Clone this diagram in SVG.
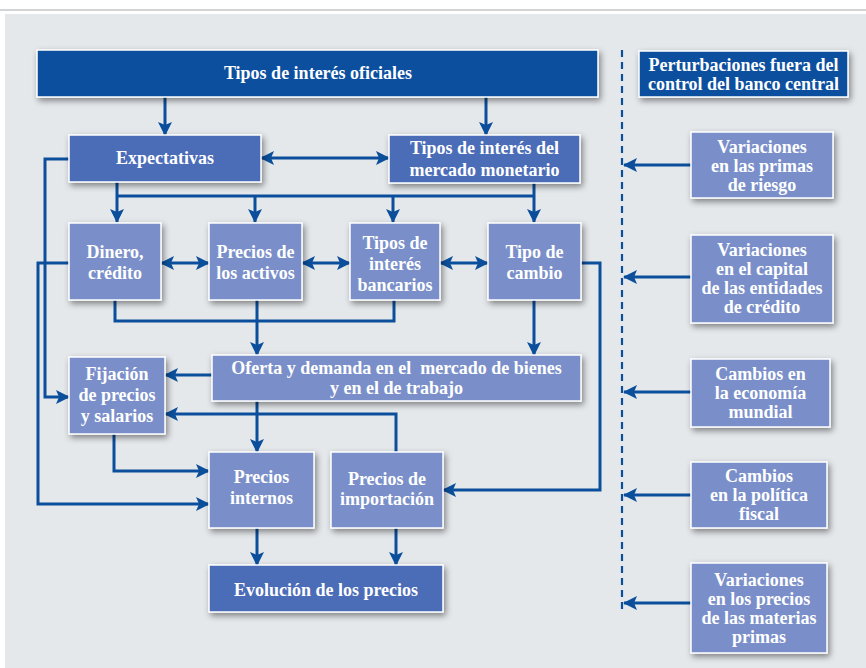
<svg xmlns="http://www.w3.org/2000/svg" width="866" height="668" viewBox="0 0 866 668">
<style>
.box{stroke:#ffffff;stroke-width:1.5;filter:url(#sh)}
.dark{fill:#0d509f}
.mid{fill:#4b6cb7}
.light{fill:#7a8fc9}
text{font-family:"Liberation Serif","Times New Roman",serif;font-weight:bold;font-size:18px;fill:#ffffff;text-anchor:middle}
.c{fill:none;stroke:#0b4f9c;stroke-width:3}
.a{marker-end:url(#ah)}
.b{marker-start:url(#ah);marker-end:url(#ah)}
</style>
<defs>
<filter id="sh" x="-20%" y="-30%" width="150%" height="170%">
<feDropShadow dx="2" dy="3" stdDeviation="3" flood-color="#000000" flood-opacity="0.45"/>
</filter>
<marker id="ah" markerUnits="userSpaceOnUse" markerWidth="14" markerHeight="14" refX="13" refY="7" orient="auto-start-reverse">
<path d="M0,0 L14,7 L0,14 L3,7 z" fill="#0b4f9c"/>
</marker>
</defs>
<rect x="0" y="0" width="866" height="668" fill="#ffffff"/>
<line x1="0" y1="10" x2="866" y2="10" stroke="#c4c6c8" stroke-width="1.5"/>
<rect x="5" y="14" width="861" height="654" fill="#e5e8eb"/>

<g id="connectors">
<path class="c a" d="M165,97 V135"/>
<path class="c a" d="M486,97 V135"/>
<path class="c b" d="M261,158 H389"/>
<path class="c" d="M117,196 H534"/>
<path class="c a" d="M117,182 V222"/>
<path class="c a" d="M534,183 V222"/>
<path class="c a" d="M255,196 V222"/>
<path class="c a" d="M393,196 V222"/>
<path class="c b" d="M161,263 H209"/>
<path class="c b" d="M302,263 H350"/>
<path class="c b" d="M440,263 H488"/>
<path class="c" d="M115,300 V321 H394 V300"/>
<path class="c a" d="M257,300 V355"/>
<path class="c a" d="M534,300 V355"/>
<path class="c a" d="M212,375 H165"/>
<path class="c a" d="M396,452 V414 H165"/>
<path class="c a" d="M257,401 V452"/>
<path class="c a" d="M114,434 V471 H209"/>
<path class="c a" d="M69,159 H45 V397 H69"/>
<path class="c a" d="M69,263 H38 V504 H209"/>
<path class="c a" d="M581,263 H600 V490 H443"/>
<path class="c a" d="M257,528 V565"/>
<path class="c a" d="M396,528 V565"/>
<path d="M622,50 V610" fill="none" stroke="#0b4f9c" stroke-width="2.2" stroke-dasharray="7 5"/>
<path class="c a" d="M691,165 H624"/>
<path class="c a" d="M691,277 H624"/>
<path class="c a" d="M691,392 H624"/>
<path class="c a" d="M691,495 H624"/>
<path class="c a" d="M691,603 H624"/>
</g>

<g id="tipos-oficiales">
<rect class="box dark" x="37" y="50" width="561" height="47"/>
<text x="318" y="79">Tipos de interés oficiales</text>
</g>
<g id="perturbaciones">
<rect class="box dark" x="639" y="51" width="209" height="46"/>
<text x="743.5" y="71">Perturbaciones fuera del</text>
<text x="743.5" y="90">control del banco central</text>
</g>
<g id="expectativas">
<rect class="box mid" x="69" y="135" width="192" height="47"/>
<text x="165" y="164">Expectativas</text>
</g>
<g id="tipos-mercado">
<rect class="box mid" x="389" y="135" width="191" height="48"/>
<text x="484.5" y="154">Tipos de interés del</text>
<text x="484.5" y="176">mercado monetario</text>
</g>
<g id="dinero">
<rect class="box light" x="69" y="223" width="92" height="77"/>
<text x="115" y="258">Dinero,</text>
<text x="115" y="279">crédito</text>
</g>
<g id="precios-activos">
<rect class="box light" x="209" y="223" width="93" height="77"/>
<text x="255.5" y="258">Precios de</text>
<text x="255.5" y="279">los activos</text>
</g>
<g id="tipos-bancarios">
<rect class="box light" x="350" y="223" width="90" height="77"/>
<text x="395" y="249">Tipos de</text>
<text x="395" y="270">interés</text>
<text x="395" y="291">bancarios</text>
</g>
<g id="tipo-cambio">
<rect class="box light" x="488" y="223" width="93" height="77"/>
<text x="534.5" y="258">Tipo de</text>
<text x="534.5" y="279">cambio</text>
</g>
<g id="oferta-demanda">
<rect class="box light" x="212" y="355" width="369" height="46"/>
<text x="396.5" y="374" style="white-space:pre">Oferta y demanda en el  mercado de bienes</text>
<text x="396.5" y="394">y en el de trabajo</text>
</g>
<g id="fijacion">
<rect class="box light" x="69" y="357" width="96" height="77"/>
<text x="117" y="380">Fijación</text>
<text x="117" y="401">de precios</text>
<text x="117" y="422">y salarios</text>
</g>
<g id="precios-internos">
<rect class="box light" x="209" y="452" width="105" height="76"/>
<text x="261.5" y="483">Precios</text>
<text x="261.5" y="504">internos</text>
</g>
<g id="precios-importacion">
<rect class="box light" x="331" y="452" width="112" height="76"/>
<text x="387" y="485">Precios de</text>
<text x="387" y="505">importación</text>
</g>
<g id="evolucion">
<rect class="box mid" x="209" y="565" width="234" height="47"/>
<text x="326" y="596">Evolución de los precios</text>
</g>
<g id="primas-riesgo">
<rect class="box light" x="691" y="132" width="142" height="66"/>
<text x="762" y="153">Variaciones</text>
<text x="762" y="172">en las primas</text>
<text x="762" y="191">de riesgo</text>
</g>
<g id="capital-entidades">
<rect class="box light" x="691" y="235" width="142" height="88"/>
<text x="762" y="256">Variaciones</text>
<text x="762" y="275">en el capital</text>
<text x="762" y="294">de las entidades</text>
<text x="762" y="313">de crédito</text>
</g>
<g id="economia-mundial">
<rect class="box light" x="691" y="359" width="139" height="68"/>
<text x="760.5" y="380">Cambios en</text>
<text x="760.5" y="399">la economía</text>
<text x="760.5" y="418">mundial</text>
</g>
<g id="politica-fiscal">
<rect class="box light" x="691" y="462" width="136" height="66"/>
<text x="759" y="482">Cambios</text>
<text x="759" y="501">en la política</text>
<text x="759" y="520">fiscal</text>
</g>
<g id="materias-primas">
<rect class="box light" x="691" y="563" width="136" height="90"/>
<text x="759" y="586">Variaciones</text>
<text x="759" y="605">en los precios</text>
<text x="759" y="624">de las materias</text>
<text x="759" y="643">primas</text>
</g>
</svg>
